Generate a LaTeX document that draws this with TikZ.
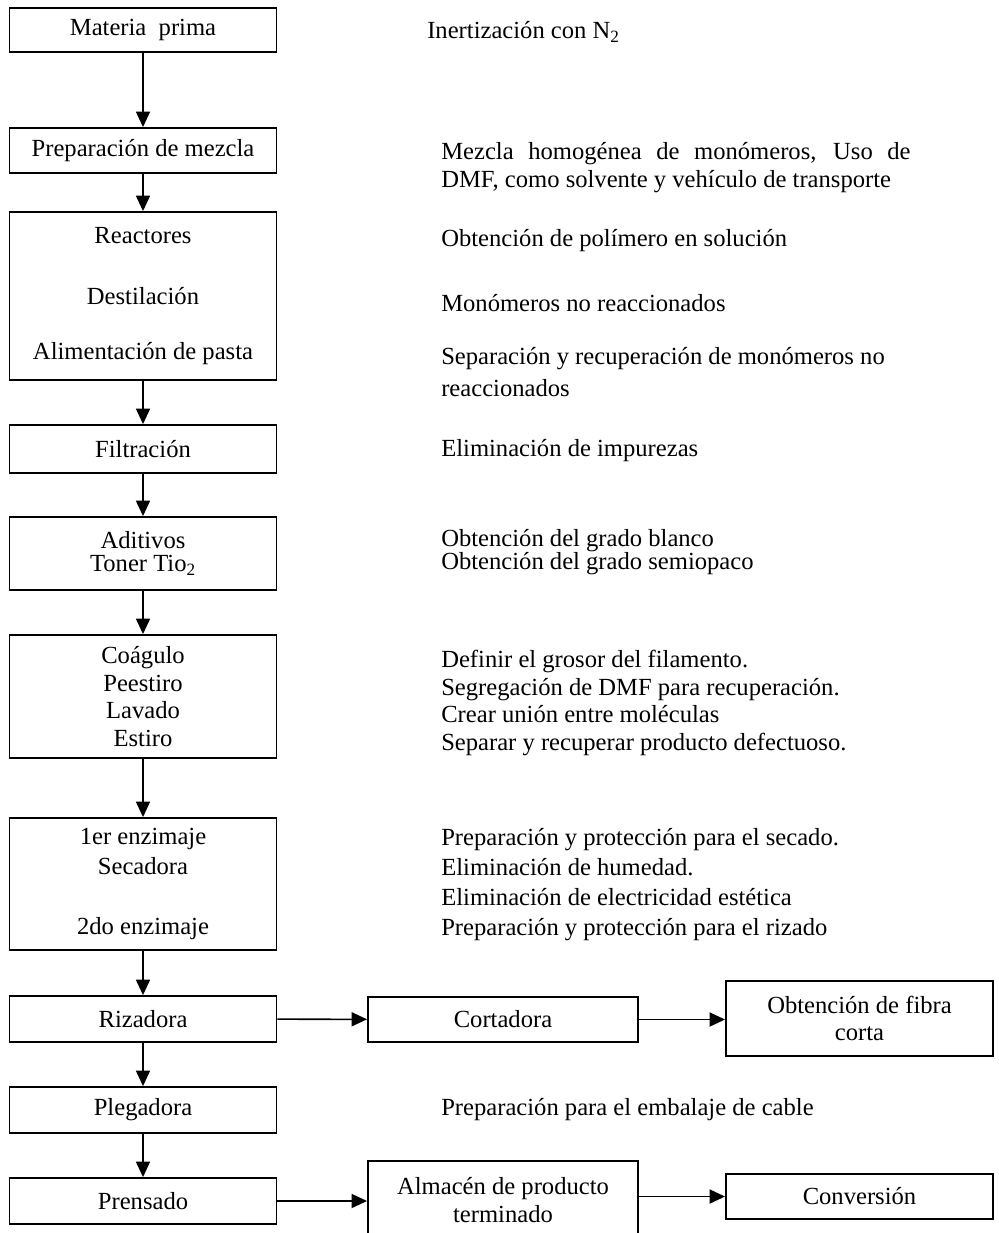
\documentclass[tikz,border=0pt]{standalone}
\usepackage{fontspec}
\setmainfont{Liberation Serif}
\usetikzlibrary{arrows.meta,positioning}
\tikzset{
  stepbox/.style={rectangle, draw=black, line width=1.3pt, minimum width=6.675cm,
                  align=center, inner sep=0pt},
  sidebox/.style={stepbox, minimum width=6.75cm},
  note/.style={anchor=west, inner sep=0pt, align=left},
  ar/.style={-{Triangle[length=11pt,width=10pt]}, line width=1.1pt},
}
\begin{document}
\begin{tikzpicture}[x=0.025cm, y=-0.025cm, font=\fontsize{17.5}{19.8}\selectfont]
\useasboundingbox (0,0) rectangle (998,1233);
\clip (0,0) rectangle (998,1233);
% main line
\node[stepbox, minimum height=1.1cm] (mp) at (143,30) {Materia\ \ prima};
\node[stepbox, minimum height=1.125cm] (pm) at (143,150.5) {Preparación de mezcla};
\node[stepbox, minimum height=4.2cm] (rx) at (143,296) {Reactores\\[24pt]Destilación\\[19pt]Alimentación de pasta};
\node[stepbox, minimum height=1.2cm] (fi) at (143,449) {Filtración};
\node[stepbox, minimum height=1.825cm] (ad) at (143,553.5) {Aditivos\\[-3.5pt]Toner Tio\textsubscript{2}};
\node[stepbox, minimum height=3.075cm] (co) at (143,696.5) {\raisebox{-4pt}{}Coágulo\\Peestiro\\Lavado\\Estiro};
\node[stepbox, minimum height=3.3cm] (en) at (143,884) {1er enzimaje\\[1.5pt]Secadora\\[1.5pt]\strut\\[1.5pt]2do enzimaje};
\node[stepbox, minimum height=1.15cm] (ri) at (143,1019) {Rizadora};
\node[stepbox, minimum height=1.15cm] (pl) at (143,1110) {Plegadora};
\node[stepbox, minimum height=1.15cm] (pr) at (143,1201) {Prensado};
% side branches
\node[sidebox, minimum height=1.125cm] (ct) at (503,1019.5) {Cortadora};
\node[stepbox, minimum height=1.875cm] (fc) at (859.5,1018.5) {Obtención de fibra\\corta};
\node[sidebox, minimum height=1.95cm] (al) at (503,1200) {Almacén de producto\\terminado};
\node[stepbox, minimum height=1.125cm] (cv) at (859.5,1196.5) {Conversión};
% arrows
\draw[ar] (mp) -- (pm);
\draw[ar] (pm) -- (rx);
\draw[ar] (rx) -- (fi);
\draw[ar] (fi) -- (ad);
\draw[ar] (ad) -- (co);
\draw[ar] (co) -- (en);
\draw[ar] (en) -- (ri);
\draw[ar] (ri) -- (pl);
\draw[ar] (pl) -- (pr);
\draw[ar] (ri) -- (ct);
\draw[ar] (ct.east) -- (ct.east -| fc.west);
\draw[ar] (pr.east) -- (pr.east -| al.west);
\draw[ar] (al.east |- cv.west) -- (cv.west);
% notes
\node[note] (n1) at (427,32) {Inertización con N\textsubscript{2}};
\node[note, text width=11.73cm, align=justify] (n2) at (441,168) {Mezcla homogénea de monómeros, Uso de\linebreak DMF, como solvente y vehículo de transporte};
\node[note] (n3) at (441,241) {Obtención de polímero en solución};
\node[note] (n4) at (441,303) {Monómeros no reaccionados};
\node[note] (n5) at (441,372) {Separación y recuperación de monómeros no\\[3pt]reaccionados};
\node[note] (n6) at (441,451) {Eliminación de impurezas};
\node[note] (n7) at (441,552) {Obtención del grado blanco\\[-3.5pt]Obtención del grado semiopaco};
\node[note] (n8) at (441,703) {Definir el grosor del filamento.\\Segregación de DMF para recuperación.\\Crear unión entre moléculas\\Separar y recuperar producto defectuoso.};
\node[note] (n9) at (441,885) {Preparación y protección para el secado.\\[1.5pt]Eliminación de humedad.\\[1.5pt]Eliminación de electricidad estética\\[1.5pt]Preparación y protección para el rizado};
\node[note] (n10) at (441,1110) {Preparación para el embalaje de cable};
\end{tikzpicture}
\end{document}
